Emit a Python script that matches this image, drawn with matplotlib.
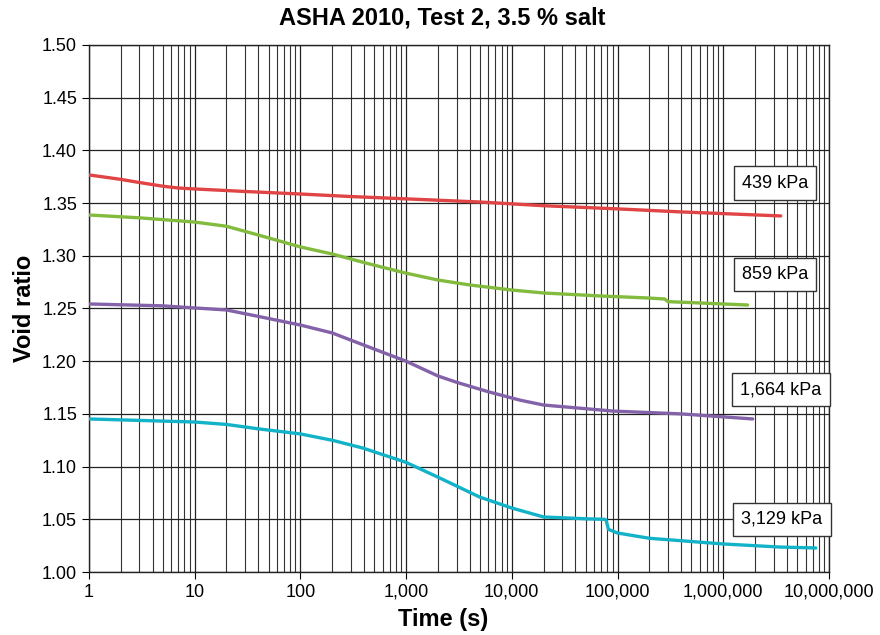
import matplotlib
matplotlib.use("Agg")
import matplotlib.pyplot as plt
from matplotlib.ticker import FuncFormatter, LogLocator, MultipleLocator, FixedLocator
import numpy as np

plt.rcParams['font.family'] = ['Liberation Sans', 'DejaVu Sans']

title = "ASHA 2010, Test 2, 3.5 % salt"
labels = ["439 kPa", "859 kPa", "1,664 kPa", "3,129 kPa"]
colors = ["#e04444", "#82bb3e", "#8462aa", "#12b2c8"]
x_ticks = [1, 10, 100, 1000, 10000, 100000, 1000000, 10000000]

t_439 = [1, 2, 3, 5, 7, 10, 30, 100, 300, 1000, 5000, 20000, 100000, 400000, 1000000, 3500000]
e_439 = [1.3767, 1.3725, 1.3695, 1.3660, 1.3643, 1.3634, 1.361, 1.3586, 1.3562, 1.354, 1.351, 1.3475, 1.3445, 1.3416, 1.340, 1.3378]

t_859 = [1, 3, 10, 20, 40, 100, 200, 420, 1000, 2000, 4000, 10000, 20000, 68000, 190000, 280000, 300000, 1700000]
e_859 = [1.3387, 1.336, 1.332, 1.328, 1.3197, 1.3084, 1.3017, 1.293, 1.2835, 1.277, 1.2723, 1.2675, 1.2647, 1.2619, 1.2600, 1.2590, 1.2565, 1.2533]

t_1664 = [1, 5, 10, 20, 40, 100, 200, 300, 500, 1000, 2000, 3000, 6000, 12000, 20000, 90000, 400000, 1900000]
e_1664 = [1.2543, 1.2525, 1.2505, 1.2486, 1.2425, 1.2343, 1.2268, 1.220, 1.2115, 1.200, 1.186, 1.180, 1.171, 1.163, 1.1584, 1.1527, 1.150, 1.1452]

t_3129 = [1, 10, 20, 41, 100, 200, 390, 1000, 2000, 3000, 5000, 10000, 20000, 50000, 75000, 78000, 82000, 100000, 200000, 1000000, 3400000, 7500000]
e_3129 = [1.1452, 1.1423, 1.140, 1.1357, 1.131, 1.125, 1.1176, 1.104, 1.090, 1.0816, 1.071, 1.0607, 1.0522, 1.0505, 1.0500, 1.0492, 1.0405, 1.037, 1.032, 1.0266, 1.0237, 1.0228]

label_x = [3.1e6, 3.1e6, 3.5e6, 3.6e6]
label_y = [1.369, 1.282, 1.173, 1.050]

series = [(t_439, e_439), (t_859, e_859), (t_1664, e_1664), (t_3129, e_3129)]

fig = plt.figure(figsize=(8.8, 6.35), dpi=100)
ax = fig.add_axes([0.101, 0.0992, 0.841, 0.830])

for (t, e), c in zip(series, colors):
    ax.plot(t, e, color=c, lw=2.4, solid_capstyle='round', solid_joinstyle='round', zorder=3)

for lab, lx, ly in zip(labels, label_x, label_y):
    ax.text(lx, ly, lab, ha='center', va='center', fontsize=13, zorder=5,
            bbox=dict(boxstyle='square,pad=0.45', fc='white', ec='#333333', lw=1.0))

ax.set_xscale('log')
ax.set_xlim(1, 1e7)
ax.set_ylim(1.0, 1.5)
ax.yaxis.set_major_locator(MultipleLocator(0.05))
ax.yaxis.set_major_formatter(FuncFormatter(lambda v, p: f"{v:.2f}"))
ax.xaxis.set_major_locator(FixedLocator(x_ticks))
ax.xaxis.set_minor_locator(LogLocator(base=10, subs=np.arange(2, 10), numticks=100))
ax.xaxis.set_major_formatter(FuncFormatter(lambda v, p: f"{int(round(v)):,}"))
ax.xaxis.set_minor_formatter(FuncFormatter(lambda v, p: ""))

ax.grid(which='major', axis='both', color='#222222', lw=0.9, zorder=1)
ax.grid(which='minor', axis='x', color='#333333', lw=0.8, zorder=1)
ax.set_axisbelow(True)
ax.tick_params(axis='both', which='major', labelsize=13, length=5, direction='out')
ax.tick_params(axis='x', which='minor', length=0)
for s in ax.spines.values():
    s.set_color('#222222')
    s.set_linewidth(1.0)

fig.text(0.503, 0.972, title, fontsize=17, fontweight='bold', ha='center', va='center')
fig.text(0.503, 0.024, "Time (s)", fontsize=17, fontweight='bold', ha='center', va='center')
ax.set_ylabel("Void ratio", fontsize=17, fontweight='bold', labelpad=4)

fig.savefig("out.png", dpi=100)
